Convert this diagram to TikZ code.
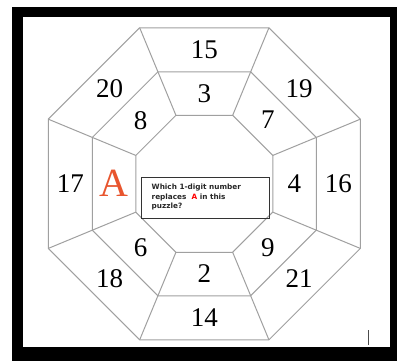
\documentclass[tikz,border=0pt]{standalone}
\usepackage{fontspec}
\usetikzlibrary{calc}
\setmainfont{Liberation Serif}
\newfontfamily\boxfont{DejaVu Sans}
\definecolor{ringgray}{HTML}{A0A0A0}
\definecolor{letterred}{HTML}{E8552E}
\tikzset{
  ring/.style={draw=ringgray, line width=1pt, line join=miter},
  num/.style={font=\fontsize{27}{27}\selectfont, inner sep=0pt},
  qbox/.style={draw=black!80, line width=0.7pt}
}
\begin{document}
\begin{tikzpicture}[x=1pt,y=1pt]
  \useasboundingbox (0,0) rectangle (397,361);
  % frame
  \fill[black] (12,0) rectangle (397,354);
  \fill[white] (23,14) rectangle (390,344);
  \coordinate (c) at (204.3,177.2);
  % three octagons and the radial cuts
  \foreach \r in {168.9,121.2,74.1} {
    \draw[ring] ($(c)+(22.5:\r)$) \foreach \k in {1,...,7} { -- ($(c)+(22.5+45*\k:\r)$) } -- cycle;
  }
  \foreach \k in {0,...,7} {
    \draw[ring] ($(c)+(22.5+45*\k:74.1)$) -- ($(c)+(22.5+45*\k:168.9)$);
  }
  % outer ring
  \foreach \a/\t [count=\i] in {90/15,45/19,0/16,-45/21,-90/14,-135/18,180/17,135/20} {
    \node[num] (out\i) at ($(c)+(\a:134)$) {\t};
  }
  % middle ring
  \foreach \a/\t [count=\i] in {90/3,45/7,0/4,-45/9,-90/2,-135/6,135/8} {
    \node[num] (mid\i) at ($(c)+(\a:90)$) {\t};
  }
  \node[num, font=\fontsize{40}{40}\selectfont, text=letterred] (letter) at ($(c)+(180:90)$) {A};
  % question box
  \draw[qbox] (141,142.7) rectangle (269.3,183.7);
  \node[anchor=north west, inner sep=0pt, align=left, text=black!85,
        font=\boxfont\bfseries\fontsize{7.3}{9.5}\selectfont] (question) at (151.5,177)
    {Which 1-digit number\\replaces~ \textcolor{red}{A} in this\\puzzle?};
  % cursor mark
  \draw[black!70, line width=0.8pt] (368.3,16) -- (368.3,31);
\end{tikzpicture}
\end{document}
